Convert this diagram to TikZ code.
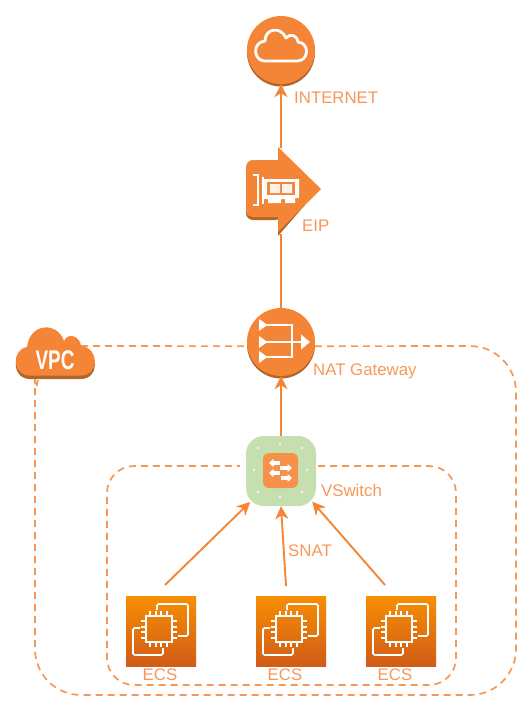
\documentclass[tikz,border=0pt]{standalone}
\usepackage{fontspec}
\setmainfont{Liberation Sans}
\usetikzlibrary{arrows.meta, positioning}

\definecolor{awsorange}{HTML}{F58536}
\definecolor{awsdark}{HTML}{B0652B}
\definecolor{awslabel}{HTML}{F7975A}
\definecolor{awsgreen}{HTML}{C5E0AE}
\definecolor{ecstop}{HTML}{F78E04}
\definecolor{ecsbottom}{HTML}{D05C17}

\tikzset{
    roundicon/.style={circle, fill=awsorange, minimum size=68pt, inner sep=0pt},
    label text/.style={text=awslabel, font=\fontsize{16.8}{17}\selectfont, inner sep=0pt},
    link/.style={draw=awsorange, line width=1.9pt},
    linkarrow/.style={link, -{Stealth[length=13pt, width=13pt, inset=4pt]}},
    dashline/.style={draw=awsorange!85!white, line width=1.7pt, dash pattern=on 7pt off 5pt},
    ecsbox/.style={rectangle, minimum size=70pt, inner sep=0pt, top color=ecstop, bottom color=ecsbottom},
    iconline/.style={draw=white, line width=1.7pt},
    swarrow/.style={white, line width=3.2pt, -{Triangle[length=4.5pt, width=8pt]}},
    ecsicon/.pic={
        \draw[iconline] (-15,-15) rectangle (11,11);
        \foreach \p in {-10,-4,1,7} {
            \draw[iconline, line width=1.4pt] (\p-1,-15) -- (\p-1,-20)
                (\p-1,11) -- (\p-1,16)
                (-15,\p) -- (-20,\p)
                (11,\p) -- (16,\p);
        }
        \draw[iconline, rounded corners=1.5pt] (-4,-21) -- (-4,-27) -- (27,-27) -- (27,5) -- (17,5);
        \draw[iconline, rounded corners=1.5pt] (2,17) -- (2,24) -- (-28,24) -- (-28,-3) -- (-21,-3);
    }
}

\begin{document}
\begin{tikzpicture}[x=1pt, y=-1pt]
    \useasboundingbox (0,0) rectangle (532,712);

    % shadows
    \fill[awsdark] (281,52.5) circle (34);
    \fill[awsdark] (281,344.5) circle (34);

    \node[roundicon] (internet) at (281,50) {};
    \node[roundicon] (nat) at (281,342) {};
    \node[minimum width=68pt, minimum height=86pt, inner sep=0pt] (eip) at (281,191) {};
    \node[rectangle, rounded corners=18pt, fill=awsgreen, minimum size=70pt, inner sep=0pt] (vswitch) at (281,471) {};
    \node[ecsbox] (ecsa) at (161,631) {};
    \node[ecsbox] (ecsb) at (291,631) {};
    \node[ecsbox] (ecsc) at (401,631) {};

    % internet cloud
    \draw[white, line width=2.8pt, line join=round] (265,61) -- (297,61)
        .. controls (309,61) and (310,43) .. (298,42)
        .. controls (297,35) and (290,33) .. (286,38)
        .. controls (281,26) and (265,28) .. (265,41)
        .. controls (252,42) and (253,61) .. (265,61) -- cycle;

    % eip
    \fill[awsdark, rounded corners=7pt] (282,163) -- (246,163) -- (246,220) -- (282,220) -- cycle;
    \fill[awsdark] (278,198) -- (305,205) -- (278,236) -- cycle;
    \fill[awsorange, rounded corners=7pt] (285,160) -- (246,160) -- (246,217) -- (285,217) -- cycle;
    \fill[awsorange] (278,147) -- (321,189) -- (278,232) -- cycle;
    \draw[white, line width=1.8pt] (253,175) -- (258,175) -- (258,205) -- (253,205);
    \draw[white, line width=1.6pt] (263,177) -- (263,204);
    \fill[white] (263,179) -- (299,179) -- (299,198) -- (295,198) -- (295,203) -- (285,203) -- (285,199) -- (281,199)
        -- (281,203) -- (268,203) -- (268,199) -- (263,199) -- cycle;
    \fill[awsorange] (267,182) rectangle (295,195);
    \fill[white, opacity=.9] (270,184) rectangle (280,193) (282,184) rectangle (292,193);

    % nat
    \draw[white, line width=2.6pt] (266,325) -- (292,325) -- (292,357) -- (266,357)
        (266,342) -- (303,342);
    \fill[white] (259,319) -- (267.5,325) -- (259,331) -- cycle
        (259,336) -- (267.5,342) -- (259,348) -- cycle
        (259,351) -- (267.5,357) -- (259,363) -- cycle
        (301,334.5) -- (310,342) -- (301,349.5) -- cycle;

    % vswitch
    \foreach \x/\y in {258/448, 280/444, 302/448, 254/470, 307/470, 258/492, 280/497, 302/492} {
        \fill[white, opacity=.75] (\x,\y) circle (1.4);
    }
    \fill[awsorange!90!white, rounded corners=6pt] (263,453) rectangle (298,488);
    \draw[swarrow] (280,463) -- (269,463);
    \draw[swarrow] (280,468) -- (292,468);
    \draw[swarrow] (280,473) -- (269,473);
    \draw[swarrow] (281,478) -- (292,478);

    % ecs
    \pic at (ecsa) {ecsicon};
    \pic at (ecsb) {ecsicon};
    \pic at (ecsc) {ecsicon};

    \coordinate (vpcright) at (81,346);
    \coordinate (vpcbottom) at (38,380);

    % vpc and vswitch borders
    \draw[dashline] (vpcright) -- (nat.187);
    \draw[dashline, rounded corners=46pt] (nat.-7) -- (516,346) -- (516,695) -- (35,695) -- (35,408)
        .. controls (35,398) and (36,388) .. (vpcbottom);
    \draw[dashline, rounded corners=27pt] ([yshift=5pt, xshift=2pt]vswitch.east) -- (456,466) -- (456,685) -- (107,685) -- (107,466) -- ([yshift=5pt, xshift=-6pt]vswitch.west);

    % vpc cloud
    \fill[awsdark] (30,379) -- (81,379) .. controls (99,379) and (100,352) .. (81,349)
        .. controls (80,339) and (68,335) .. (64,344)
        .. controls (58,325) and (30,325) .. (27,350)
        .. controls (11,353) and (12,379) .. (30,379) -- cycle;
    \fill[awsorange] (30,375.5) -- (81,375.5) .. controls (99,375.5) and (100,348) .. (81,346)
        .. controls (80,336) and (68,332) .. (64,341)
        .. controls (58,322) and (30,322) .. (27,347)
        .. controls (11,350) and (12,375.5) .. (30,375.5) -- cycle;
    \node[text=white, font=\bfseries\fontsize{27}{27}\selectfont, xscale=.7, inner sep=0pt] (vpc) at (55,360) {VPC};

    % labels
    \node[label text, anchor=west] (internetlabel) at (294,97.5) {INTERNET};
    \node[label text, anchor=west] (eiplabel) at (302,225.5) {EIP};
    \node[label text, anchor=west] (natlabel) at (313,371) {NAT Gateway};
    \node[label text, anchor=west] (vswitchlabel) at (321,490.5) {VSwitch};
    \node[label text, anchor=west] (snatlabel) at (288,550.5) {SNAT};
    \node[label text] (ecsalabel) at (160,675) {ECS};
    \node[label text] (ecsblabel) at (285,675) {ECS};
    \node[label text] (ecsclabel) at (395,675) {ECS};

    % connectors
    \coordinate (ecsaout) at (165,585);
    \coordinate (ecsbout) at (286,586);
    \coordinate (ecscout) at (385,585);
    \draw[linkarrow] (eip.north) -- (internet.south);
    \draw[link] (eip.south) -- (nat.north);
    \draw[linkarrow] (vswitch.north) -- (nat.south);
    \draw[linkarrow, shorten >=-6pt] (ecsaout) -- (vswitch.south west);
    \draw[linkarrow] (ecsbout) -- (vswitch.south);
    \draw[linkarrow, shorten >=-6pt] (ecscout) -- (vswitch.south east);
\end{tikzpicture}
\end{document}
